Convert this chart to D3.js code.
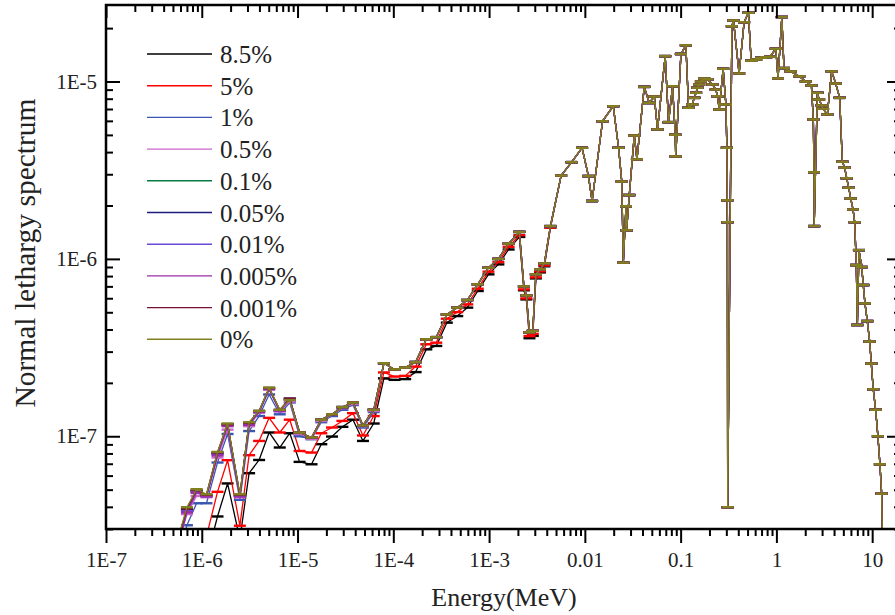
<!DOCTYPE html>
<html><head><meta charset="utf-8">
<script src="https://cdn.jsdelivr.net/npm/d3@7"></script>
<style>body{margin:0;background:#fff}svg{display:block}
svg text{font-family:"Liberation Serif","Times New Roman","DejaVu Serif",serif;}</style>
</head><body><svg id="c" width="895" height="615"></svg>
<script>
// ---------------- data ----------------
const energies = [5.5e-7,7.0e-7,8.83e-7,1.12e-6,1.46e-6,1.86e-6,2.50e-6,3.12e-6,3.97e-6,5.05e-6,
6.52e-6,8.30e-6,1.05e-5,1.40e-5,1.77e-5,2.29e-5,2.94e-5,3.79e-5,4.82e-5,6.24e-5,
7.98e-5,1.03e-4,1.33e-4,1.71e-4,2.21e-4,2.81e-4,3.62e-4,4.65e-4,5.92e-4,7.62e-4,
9.86e-4,1.25e-3,1.60e-3,2.07e-3,2.31e-3,2.45e-3,2.64e-3,2.86e-3,3.08e-3,3.40e-3,
3.78e-3,4.37e-3,5.65e-3,7.28e-3,9.35e-3,1.09e-2,1.19e-2,1.53e-2,1.98e-2,2.25e-2,
2.43e-2,2.52e-2,2.69e-2,2.73e-2,2.91e-2,3.28e-2,3.50e-2,4.17e-2,4.71e-2,5.31e-2,
5.74e-2,6.90e-2,7.48e-2,8.24e-2,8.79e-2,8.89e-2,0.1007,0.1135,0.121,0.132,
0.139,0.145,0.150,0.156,0.163,0.176,0.191,0.215,0.233,0.243,
0.253,0.278,0.297,0.304,0.307,0.308,0.310,0.343,0.356,0.408,
0.460,0.510,0.545,0.614,0.692,0.781,0.860,0.986,1.04,1.14,
1.20,1.41,1.73,2.03,2.32,2.43,2.47,2.48,2.68,2.79,
2.97,3.07,3.40,3.78,4.16,4.58,4.88,5.16,5.42,5.69,
5.97,6.31,6.57,6.83,7.00,7.28,7.78,8.07,8.41,8.89,
9.42,9.79,10.26,10.87,11.48,12.05,12.56,12.9];

// 0 % series (full energy range)
const spectrum0 = [2.53e-8,3.98e-8,5.03e-8,4.71e-8,8.16e-8,1.18e-7,4.71e-8,1.20e-7,1.39e-7,1.88e-7,
1.41e-7,1.60e-7,1.05e-7,9.84e-8,1.24e-7,1.33e-7,1.46e-7,1.55e-7,1.15e-7,1.41e-7,
2.58e-7,2.38e-7,2.44e-7,2.62e-7,3.52e-7,3.62e-7,4.86e-7,5.31e-7,5.86e-7,7.18e-7,
8.92e-7,1.00e-6,1.22e-6,1.42e-6,7.00e-7,6.22e-7,3.85e-7,3.93e-7,8.18e-7,8.73e-7,
9.44e-7,1.53e-6,2.95e-6,3.51e-6,4.23e-6,2.93e-6,2.12e-6,5.97e-6,7.26e-6,4.23e-6,
2.73e-6,9.52e-7,1.98e-6,1.45e-6,2.29e-6,4.96e-6,3.64e-6,9.33e-6,7.57e-6,8.23e-6,
5.37e-6,1.39e-5,5.90e-6,9.41e-6,5.01e-6,3.78e-6,1.43e-5,1.60e-5,7.11e-6,7.42e-6,
8.09e-6,8.64e-6,9.22e-6,9.62e-6,1.00e-5,1.04e-5,1.03e-5,9.62e-6,9.01e-6,8.26e-6,
6.95e-6,1.18e-5,7.42e-6,4.23e-6,2.14e-6,1.61e-6,3.98e-8,2.05e-5,2.21e-5,1.11e-5,
2.16e-5,2.44e-5,1.31e-5,1.33e-5,1.36e-5,1.37e-5,1.38e-5,1.53e-5,1.04e-5,2.31e-5,
1.19e-5,1.14e-5,1.07e-5,1.00e-5,9.49e-6,6.11e-6,3.08e-6,1.53e-6,8.64e-6,7.92e-6,
7.33e-6,7.02e-6,6.52e-6,1.14e-5,9.74e-6,8.09e-6,3.53e-6,3.27e-6,2.85e-6,2.52e-6,
2.19e-6,1.90e-6,1.61e-6,9.23e-7,4.24e-7,1.12e-6,8.99e-7,7.12e-7,5.61e-7,4.46e-7,
3.42e-7,2.57e-7,1.84e-7,1.41e-7,1.00e-7,6.95e-8,4.75e-8,2.03e-8];

// low-energy values where each series departs from the 0 % curve
// (beyond these points the curves coincide with the 0 % values)
const low8_5 = [1.2e-8,1.56e-8,1.21e-8,2.03e-8,3.53e-8,5.42e-8,2.63e-8,6.19e-8,7.35e-8,1.05e-7,
8.64e-8,1.04e-7,7.17e-8,6.95e-8,9.02e-8,9.96e-8,1.13e-7,1.24e-7,9.41e-8,1.18e-7,
2.12e-7,2.08e-7,2.10e-7,2.30e-7,3.09e-7,3.23e-7,4.37e-7,4.76e-7,5.31e-7,6.59e-7,
8.18e-7,9.31e-7,1.13e-6,1.33e-6,6.65e-7,5.91e-7,3.57e-7,3.68e-7,7.76e-7,8.39e-7,
9.08e-7,1.50e-6];
const low5 = [1.2e-8,1.90e-8,1.56e-8,2.73e-8,4.86e-8,7.33e-8,3.13e-8,7.82e-8,9.41e-8,1.27e-7,
1.05e-7,1.24e-7,8.26e-8,8.09e-8,1.04e-7,1.12e-7,1.22e-7,1.35e-7,1.01e-7,1.30e-7,
2.29e-7,2.17e-7,2.19e-7,2.47e-7,3.30e-7,3.37e-7,4.60e-7,5.01e-7,5.54e-7,6.79e-7,
8.47e-7,9.59e-7,1.17e-6,1.36e-6,6.73e-7,5.99e-7,3.67e-7,3.78e-7,7.87e-7,8.51e-7,
9.19e-7,1.50e-6];
const low1 = [2.03e-8,3.15e-8,4.19e-8,4.19e-8,7.11e-8,1.03e-7,4.38e-8,1.07e-7,1.30e-7,1.72e-7,
1.33e-7,1.55e-7,1.00e-7,9.62e-8,1.20e-7,1.30e-7,1.41e-7,1.50e-7,1.12e-7,1.37e-7];
const low0_5 = [2.31e-8,3.64e-8,4.61e-8,4.53e-8,7.59e-8,1.09e-7,4.53e-8,1.14e-7,1.36e-7,1.83e-7,
1.38e-7,1.57e-7,1.03e-7,9.68e-8,1.22e-7,1.32e-7,1.44e-7,1.52e-7,1.14e-7,1.39e-7];
const low0_1 = [2.4e-8,3.85e-8,4.9e-8,4.62e-8,8.0e-8,1.16e-7,4.62e-8,1.18e-7,1.38e-7,1.86e-7,1.40e-7,1.62e-7];
const low0_05 = [2.42e-8,3.88e-8,4.95e-8,4.65e-8,8.05e-8,1.17e-7,4.65e-8,1.19e-7,1.385e-7,1.87e-7,1.40e-7,1.63e-7];
const low0_01 = [2.35e-8,3.78e-8,4.85e-8,4.6e-8,7.9e-8,1.15e-7,4.6e-8,1.17e-7,1.37e-7,1.85e-7,1.39e-7,1.61e-7];
const low0_005 = [2.3e-8,3.72e-8,4.8e-8,4.58e-8,7.8e-8,1.14e-7,4.58e-8,1.16e-7,1.37e-7,1.85e-7,1.39e-7,1.61e-7];
const low0_001 = [2.45e-8,3.92e-8,4.98e-8,4.68e-8,8.1e-8,1.17e-7,4.68e-8,1.19e-7,1.39e-7,1.87e-7,1.41e-7,1.63e-7];

const seriesNames = ["8.5%","5%","1%","0.5%","0.1%","0.05%","0.01%","0.005%","0.001%","0%"];
const seriesLow = [low8_5, low5, low1, low0_5, low0_1, low0_05, low0_01, low0_005, low0_001, []];
const xTickValues = [1e-7,1e-6,1e-5,1e-4,1e-3,0.01,0.1,1,10];
const xTickLabels = ["1E-7","1E-6","1E-5","1E-4","1E-3","0.01","0.1","1","10"];
const yTickValues = [1e-7,1e-6,1e-5];
const yTickLabels = ["1E-7","1E-6","1E-5"];

// ---------------- styles ----------------
const colors = ["#000000","#ff0000","#3a56b0","#cc66cc","#0a7a45","#1c1c80","#6a48d8","#9a2fa8","#7a1030","#808020"];

// ---------------- chart ----------------
const svg = d3.select("#c");
const L = 106, R = 901, T = 5, B = 529;
const x = d3.scaleLog().domain([1e-7, 20]).range([L, R]);
const y = d3.scaleLog().domain([3e-8, 2.7e-5]).range([B, T]);

svg.append("defs").append("clipPath").attr("id","clip")
  .append("rect").attr("x",L).attr("y",T).attr("width",R-L).attr("height",B-T);

const series = seriesNames.map((name,i)=>{
  const vals = seriesLow[i].concat(spectrum0.slice(seriesLow[i].length));
  return {name, color: colors[i], pts: energies.map((e,k)=>({e, v: vals[k]}))};
});

const plot = svg.append("g").attr("clip-path","url(#clip)");
const line = d3.line().x(d=>x(d.e)).y(d=>y(d.v));
series.forEach(s=>{
  const g = plot.append("g");
  g.append("path").datum(s.pts).attr("d",line).attr("fill","none")
    .attr("stroke",s.color).attr("stroke-width",1.3).attr("stroke-linejoin","round");
  // error-bar caps (uncertainty smaller than the cap thickness)
  g.selectAll("line.cap").data(s.pts).join("line").attr("class","cap")
    .attr("x1",d=>x(d.e)-6).attr("x2",d=>x(d.e)+6)
    .attr("y1",d=>y(d.v)).attr("y2",d=>y(d.v))
    .attr("stroke",s.color).attr("stroke-width",2.4);
});

// axes
const minorX = x.ticks().filter(t=>!xTickValues.some(v=>Math.abs(v-t)/v<1e-6) && t>=1e-7 && t<=20);
const minorY = y.ticks().filter(t=>!yTickValues.some(v=>Math.abs(v-t)/v<1e-6));

function styleAxis(g){
  g.select(".domain").remove();
  g.selectAll(".tick line").attr("stroke","#000").attr("stroke-width",2);
  g.selectAll("text").attr("font-family",null).attr("font-size",21).attr("fill","#222");
}
// bottom (outward ticks)
svg.append("g").attr("transform",`translate(0,${B})`)
  .call(d3.axisBottom(x).tickValues(xTickValues).tickFormat((d,i)=>xTickLabels[i]).tickSize(14).tickPadding(9))
  .call(styleAxis);
svg.append("g").attr("transform",`translate(0,${B})`)
  .call(d3.axisBottom(x).tickValues(minorX).tickFormat("").tickSize(7)).call(styleAxis);
// top (inward ticks)
svg.append("g").attr("transform",`translate(0,${T})`)
  .call(d3.axisBottom(x).tickValues(xTickValues).tickFormat("").tickSize(13)).call(styleAxis);
svg.append("g").attr("transform",`translate(0,${T})`)
  .call(d3.axisBottom(x).tickValues(minorX).tickFormat("").tickSize(7)).call(styleAxis);
// left (inward ticks)
svg.append("g").attr("transform",`translate(${L},0)`)
  .call(d3.axisLeft(y).tickValues(yTickValues).tickFormat((d,i)=>yTickLabels[i]).tickSize(-14).tickPadding(9))
  .call(styleAxis);
svg.append("g").attr("transform",`translate(${L},0)`)
  .call(d3.axisLeft(y).tickValues(minorY).tickFormat("").tickSize(-7)).call(styleAxis);
// right (inward ticks)
svg.append("g").attr("transform",`translate(${R},0)`)
  .call(d3.axisLeft(y).tickValues(yTickValues).tickFormat("").tickSize(14)).call(styleAxis);
svg.append("g").attr("transform",`translate(${R},0)`)
  .call(d3.axisLeft(y).tickValues(minorY).tickFormat("").tickSize(7)).call(styleAxis);

// frame
svg.append("rect").attr("x",L).attr("y",T).attr("width",R-L).attr("height",B-T)
  .attr("fill","none").attr("stroke","#000").attr("stroke-width",2.5);

// titles
svg.append("text").attr("x",504).attr("y",606).attr("text-anchor","middle")
  .attr("font-size",26).attr("fill","#222").text("Energy(MeV)");
svg.append("text").attr("transform","translate(35,253) rotate(-90)").attr("text-anchor","middle")
  .attr("font-size",29.5).attr("fill","#222").text("Normal lethargy spectrum");

// legend
const leg = svg.append("g");
series.forEach((s,i)=>{
  const yy = 54 + i*31.7;
  leg.append("line").attr("x1",147).attr("x2",212).attr("y1",yy).attr("y2",yy)
    .attr("stroke",s.color).attr("stroke-width",1.4);
  leg.append("text").attr("x",220).attr("y",yy+9)
    .attr("font-size",25).attr("fill","#222").text(s.name);
});
</script></body></html>
